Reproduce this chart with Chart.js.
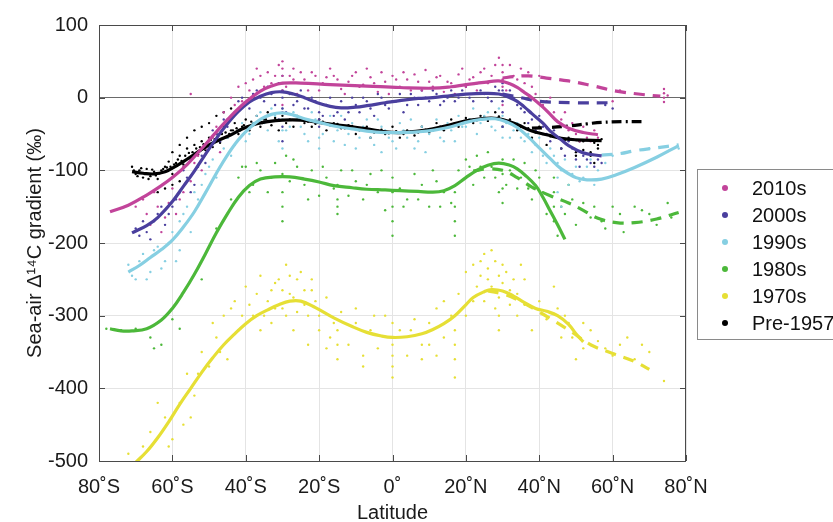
<!DOCTYPE html>
<html>
<head>
<meta charset="utf-8">
<script src="https://cdn.jsdelivr.net/npm/chart.js@4/dist/chart.umd.min.js"></script>
<style>
  html, body { margin: 0; padding: 0; background: #fff; }
  #wrap { width: 833px; height: 522px; }
</style>
</head>
<body>
<div id="wrap"><canvas id="c" width="833" height="522"></canvas></div>
<script>
// ================== Data ==================
const decades = ['2010s', '2000s', '1990s', '1980s', '1970s', 'Pre-1957'];
const latTicks = [-80, -60, -40, -20, 0, 20, 40, 60, 80];
const gradTicks = [-500, -400, -300, -200, -100, 0, 100];

// smoothed fits [latitude, gradient]
const fit2010s = [[-77, -157], [-72, -148], [-67, -134], [-63, -121], [-60, -110], [-56, -92], [-52, -70], [-48, -47], [-44, -25], [-40, -6], [-36, 9], [-33, 16], [-30, 20], [-25, 20], [-17, 18], [-7, 16], [2, 14], [11, 13], [16, 15], [20, 18], [25, 21], [29, 23], [32, 19], [34, 14], [36, 7], [38, 0], [41, -13], [43, -23], [45, -33], [48, -42], [52, -48], [56, -51]];
const ext2010s = [[30, 27], [33, 29], [37, 30], [42, 27], [48, 23], [54, 17], [61, 9], [67, 5], [73, 2]];
const fit2000s = [[-71, -186], [-67, -176], [-64, -165], [-60, -143], [-57, -122], [-54, -101], [-51, -78], [-48, -56], [-45, -36], [-42, -19], [-39, -6], [-36, 2], [-33, 7], [-30, 8], [-27, 5], [-24, 0], [-21, -6], [-17, -12], [-14, -14], [-10, -13], [-7, -11], [-2, -7], [2, -4], [7, -1], [11, 0], [16, 3], [20, 5], [25, 6], [29, 5], [32, 0], [34, -5], [36, -13], [38, -22], [41, -35], [43, -46], [46, -58], [48, -66], [52, -76], [57, -80]];
const ext2000s = [[30, 5], [35, 0], [40, -5], [50, -7], [60, -7]];
const fit1990s = [[-72, -240], [-69, -231], [-66, -220], [-63, -209], [-60, -196], [-57, -178], [-54, -157], [-51, -131], [-48, -104], [-45, -79], [-42, -58], [-39, -42], [-36, -30], [-33, -23], [-30, -21], [-27, -24], [-24, -29], [-20, -34], [-16, -39], [-11, -43], [-7, -46], [-2, -48], [2, -48], [7, -47], [11, -45], [16, -40], [20, -34], [24, -30], [28, -29], [31, -33], [34, -41], [37, -54], [40, -69], [43, -84], [46, -98], [50, -110], [53, -113], [57, -112], [61, -106], [66, -96], [72, -82], [78, -66]];
const ext1990s = [[57, -79], [62, -77], [66, -73], [72, -69], [78, -65]];
const fit1980s = [[-77, -318], [-74, -321], [-71, -321], [-67, -318], [-63, -306], [-60, -290], [-57, -268], [-54, -243], [-51, -215], [-48, -186], [-45, -160], [-42, -137], [-39, -121], [-36, -112], [-32, -109], [-28, -109], [-24, -112], [-20, -116], [-16, -121], [-11, -124], [-7, -126], [-2, -127], [2, -128], [7, -129], [11, -130], [14, -128], [17, -121], [20, -110], [23, -100], [26, -93], [29, -90], [32, -93], [34, -98], [36, -106], [39, -121], [41, -137], [43, -156], [45, -175], [47, -195]];
const ext1980s = [[22, -101], [26, -98], [30, -100], [34, -110], [38, -123], [43, -135], [48, -145], [52, -155], [56, -166], [61, -172], [66, -172], [72, -167], [78, -158]];
const fit1970s = [[-70, -502], [-67, -487], [-64, -468], [-61, -446], [-58, -422], [-55, -400], [-52, -378], [-49, -358], [-46, -340], [-43, -325], [-40, -311], [-37, -300], [-34, -292], [-31, -285], [-28, -280], [-25, -280], [-21, -289], [-16, -303], [-11, -315], [-7, -323], [-3, -328], [0, -330], [4, -329], [8, -325], [11, -319], [14, -311], [17, -300], [20, -285], [22, -275], [25, -267], [27, -264], [30, -266], [33, -273], [36, -282], [39, -290], [42, -294], [45, -300], [48, -312], [50, -325], [52, -336]];
const ext1970s = [[26, -266], [30, -270], [34, -278], [39, -292], [44, -307], [49, -323], [54, -340], [60, -352], [66, -363], [70, -374]];
const fitPre1957 = [[-71, -102], [-68, -104], [-65, -105], [-62, -102], [-60, -97], [-57, -88], [-54, -78], [-51, -68], [-48, -60], [-44, -51], [-41, -43], [-37, -36], [-34, -33], [-30, -31], [-25, -31], [-20, -34], [-16, -37], [-11, -40], [-7, -43], [-2, -47], [2, -48], [7, -46], [11, -43], [16, -37], [20, -32], [24, -29], [27, -28], [30, -30], [34, -37], [38, -46], [42, -51], [46, -56], [50, -58], [57, -59]];
const extPre1957 = [[38, -42], [43, -41], [48, -39], [53, -36], [57, -34], [63, -33], [69, -33]];

// individual measurements [latitude, gradient]
const obs2010s = [[-68, -140], [-66, -175], [-64, -150], [-62, -165], [-60, -125], [-58, -140], [-57, -95], [-55, -115], [-55, 5], [-53, -80], [-52, -100], [-50, -60], [-48, -40], [-47, -75], [-45, -30], [-43, -10], [-42, 15], [-40, 20], [-38, 25], [-36, 30], [-34, 35], [-33, 20], [-31, 45], [-30, 50], [-30, 40], [-30, 30], [-30, 20], [-30, 10], [-30, -10], [-30, -20], [-28, 30], [-27, 40], [-26, 5], [-24, 25], [-22, 35], [-20, 10], [-18, 28], [-16, 30], [-14, 12], [-12, 22], [-10, 35], [-8, 18], [-6, 28], [-4, 8], [-2, 22], [0, 30], [2, 15], [4, 25], [6, 32], [8, 10], [10, 22], [12, 28], [14, 8], [16, 20], [18, 32], [20, 15], [22, 28], [24, 35], [26, 20], [28, 45], [29, 55], [30, 35], [30, 45], [30, 25], [30, 15], [30, 5], [30, -10], [31, 10], [33, 30], [35, 40], [36, 20], [38, 15], [40, 30], [42, -5], [44, -20], [46, -30], [48, -45], [50, -50], [52, -40], [54, -60], [56, -55], [60, -5], [62, 10], [74, 12], [74, 6], [74, 0], [74, -6], [75, 3], [-70, -150], [-67, -160], [-65, -130], [-63, -185], [-61, -145], [-59, -160], [-57, -130], [-54, -90], [-51, -70], [-49, -55], [-46, -20], [-44, 0], [-41, -5], [-39, 10], [-37, 40], [-35, 15], [-32, 30], [-29, 15], [-27, 25], [-25, 35], [-23, 10], [-21, 30], [-19, 20], [-17, 40], [-15, 25], [-13, 5], [-11, 30], [-9, 15], [-7, 40], [-5, 20], [-3, 35], [-1, 5], [1, 25], [3, 35], [5, 10], [7, 22], [9, 38], [11, 15], [13, 30], [15, 22], [17, 5], [19, 40], [21, 25], [23, 10], [25, 40], [27, 30], [32, 45], [34, 25], [37, 35], [39, 5], [41, -10], [43, 0], [45, -40], [47, -20], [49, -35], [51, -60], [53, -55], [55, -45]];
const obs2000s = [[-70, -180], [-68, -170], [-66, -195], [-64, -160], [-62, -175], [-60, -150], [-58, -130], [-56, -110], [-54, -120], [-52, -80], [-50, -65], [-48, -50], [-46, -30], [-44, -25], [-42, -5], [-40, -10], [-38, 5], [-36, 0], [-34, 15], [-32, -10], [-31, 20], [-31, -30], [-30, 30], [-30, 20], [-30, 10], [-30, 0], [-30, -15], [-30, -40], [-30, -60], [-29, -20], [-28, 5], [-26, -5], [-24, -15], [-22, 0], [-20, -20], [-20, -30], [-20, -35], [-20, -40], [-18, -10], [-16, -25], [-14, -5], [-12, -20], [-10, -10], [-8, 0], [-6, -15], [-4, 5], [-2, -10], [0, -5], [2, 5], [4, -10], [6, 0], [8, 10], [10, -5], [12, 5], [14, -5], [16, 10], [18, 0], [20, 15], [22, -5], [24, 10], [26, 0], [28, 15], [30, 20], [30, 10], [30, -5], [30, -20], [30, -40], [32, 10], [34, -10], [36, -20], [38, -30], [40, -25], [42, -50], [44, -45], [46, -70], [48, -60], [50, -85], [52, -80], [54, -90], [56, -85], [58, -10], [60, -15], [-69, -190], [-67, -185], [-65, -170], [-63, -150], [-61, -160], [-59, -140], [-57, -100], [-55, -130], [-53, -95], [-51, -90], [-49, -45], [-47, -60], [-45, -40], [-43, -20], [-41, 0], [-39, -15], [-37, 10], [-35, -5], [-33, 5], [-27, -10], [-25, 10], [-23, -15], [-21, -5], [-19, -25], [-17, 0], [-15, -20], [-13, -30], [-11, 0], [-9, -20], [-7, -5], [-5, -25], [-3, 0], [-1, -15], [1, -5], [3, -20], [5, 5], [7, -10], [9, 0], [11, 10], [13, -10], [15, 0], [17, -5], [19, 10], [21, 0], [23, 20], [25, 5], [27, -5], [29, 10], [33, 0], [35, -15], [37, -35], [39, -45], [41, -40], [43, -60], [45, -55], [47, -80], [49, -70], [51, -95], [53, -85], [55, -95], [57, -90]];
const obs1990s = [[-72, -230], [-70, -250], [-68, -215], [-66, -240], [-64, -205], [-62, -225], [-60, -185], [-58, -210], [-58, -170], [-56, -150], [-55, -185], [-54, -130], [-52, -120], [-50, -95], [-48, -110], [-46, -70], [-44, -80], [-42, -45], [-40, -60], [-38, -35], [-36, -20], [-34, -45], [-32, -25], [-31, -60], [-30, -15], [-30, -30], [-30, -45], [-30, -70], [-28, -40], [-26, -30], [-24, -50], [-22, -20], [-20, -55], [-20, -70], [-18, -35], [-16, -60], [-14, -25], [-12, -50], [-10, -70], [-8, -40], [-6, -55], [-4, -30], [-3, -75], [-2, -45], [0, -60], [2, -35], [4, -55], [6, -70], [8, -40], [10, -50], [12, -30], [14, -60], [16, -45], [18, -25], [20, -40], [22, -15], [24, -35], [26, -20], [28, -45], [30, -25], [30, -40], [30, -55], [32, -55], [34, -35], [36, -60], [38, -75], [40, -55], [42, -90], [44, -80], [46, -100], [48, -120], [50, -95], [52, -110], [54, -85], [56, -100], [60, -80], [70, -70], [78, -70], [-71, -245], [-69, -225], [-67, -250], [-65, -210], [-63, -235], [-61, -200], [-59, -225], [-57, -160], [-53, -140], [-51, -105], [-49, -85], [-47, -95], [-45, -55], [-43, -65], [-41, -35], [-39, -50], [-37, -25], [-35, -35], [-33, -15], [-29, -45], [-27, -20], [-25, -40], [-23, -60], [-21, -30], [-19, -50], [-17, -25], [-15, -45], [-13, -65], [-11, -35], [-9, -55], [-7, -30], [-5, -65], [-3, -40], [-1, -55], [1, -70], [3, -45], [5, -30], [7, -60], [9, -75], [11, -45], [13, -55], [15, -35], [17, -60], [19, -40], [21, -30], [23, -50], [25, -25], [27, -40], [29, -15], [31, -35], [33, -45], [35, -55], [37, -50], [39, -65], [41, -80], [43, -70], [45, -90], [45, -110], [45, -130], [46, -150], [47, -85], [49, -105], [51, -115], [53, -95], [55, -120], [58, -90]];
const obs1980s = [[-78, -318], [-74, -320], [-70, -318], [-66, -330], [-65, -345], [-63, -340], [-60, -305], [-58, -318], [-52, -250], [-48, -180], [-44, -140], [-42, -110], [-40, -95], [-38, -120], [-36, -100], [-34, -130], [-32, -90], [-30, -105], [-30, -130], [-30, -150], [-30, -170], [-29, -80], [-28, -115], [-26, -95], [-24, -120], [-22, -100], [-20, -135], [-18, -110], [-16, -125], [-15, -120], [-15, -140], [-15, -150], [-15, -160], [-14, -100], [-12, -135], [-10, -115], [-8, -140], [-6, -105], [-4, -130], [-2, -155], [0, -110], [0, -130], [0, -150], [0, -170], [0, -190], [2, -125], [4, -140], [6, -105], [8, -120], [10, -150], [12, -115], [14, -130], [16, -145], [17, -130], [17, -150], [17, -170], [17, -190], [18, -100], [20, -85], [22, -120], [24, -95], [26, -75], [28, -110], [29, -130], [30, -85], [30, -105], [30, -125], [30, -145], [32, -100], [34, -125], [36, -90], [38, -140], [40, -110], [42, -160], [44, -110], [44, -130], [44, -150], [44, -170], [45, -190], [46, -150], [48, -120], [50, -175], [52, -145], [54, -165], [58, -180], [60, -150], [63, -185], [66, -150], [70, -160], [75, -145], [76, -165], [-41, -95], [-39, -130], [-37, -90], [-33, -110], [-27, -85], [-23, -140], [-19, -95], [-11, -100], [-7, -120], [-3, -100], [3, -150], [7, -140], [11, -100], [13, -150], [21, -95], [23, -80], [25, -110], [27, -95], [31, -120], [33, -85], [35, -110], [37, -125], [39, -100], [41, -130], [47, -160], [49, -140], [55, -150], [57, -170], [62, -160], [68, -155], [72, -175]];
const obs1970s = [[-72, -490], [-68, -480], [-66, -460], [-62, -440], [-60, -470], [-58, -420], [-56, -380], [-54, -410], [-52, -350], [-50, -370], [-48, -330], [-46, -300], [-45, -360], [-44, -290], [-42, -320], [-40, -260], [-38, -300], [-36, -245], [-34, -280], [-33, -310], [-32, -255], [-30, -290], [-29, -230], [-28, -270], [-27, -320], [-26, -250], [-24, -285], [-23, -340], [-22, -265], [-20, -300], [-18, -275], [-17, -330], [-16, -310], [-14, -295], [-12, -340], [-10, -310], [-8, -355], [-6, -320], [-4, -345], [-2, -300], [0, -340], [0, -370], [2, -320], [4, -355], [6, -305], [8, -340], [10, -310], [12, -290], [14, -330], [16, -300], [17, -360], [17, -385], [18, -270], [20, -240], [22, -280], [24, -225], [26, -250], [27, -210], [28, -290], [29, -245], [30, -230], [32, -265], [34, -300], [36, -250], [38, -320], [40, -280], [42, -305], [44, -260], [46, -330], [48, -310], [50, -360], [52, -345], [54, -320], [56, -335], [60, -355], [64, -330], [68, -340], [74, -390], [-31, -250], [-30, -265], [-29, -300], [-28, -245], [-27, -275], [-26, -295], [-25, -240], [-24, -265], [-23, -300], [-22, -250], [-21, -280], [-32, -290], [-33, -265], [-35, -300], [-36, -320], [-37, -270], [-39, -285], [-41, -300], [-43, -280], [-47, -350], [-49, -310], [-53, -380], [-55, -440], [-57, -450], [-61, -480], [-64, -420], [22, -230], [23, -260], [24, -245], [25, -280], [25, -215], [26, -235], [27, -260], [28, -225], [29, -275], [30, -255], [31, -240], [32, -285], [33, -250], [34, -270], [35, -230], [36, -285], [29, -300], [29, -320], [-15, -320], [-15, -340], [-15, -360], [0, -310], [0, -355], [0, -385], [17, -340], [17, -320], [-10, -290], [-5, -300], [5, -320], [10, -340], [-8, -370], [8, -360], [20, -300], [14, -280], [12, -355], [-20, -320], [-18, -345], [45, -290], [47, -300], [49, -330], [52, -310], [58, -345], [62, -340], [66, -360], [70, -350]];
const obsPre1957 = [[-71, -95], [-70, -105], [-69, -100], [-68, -110], [-67, -98], [-66, -108], [-65, -102], [-64, -112], [-63, -100], [-62, -95], [-61, -88], [-60, -105], [-59, -90], [-58, -80], [-57, -92], [-56, -70], [-55, -85], [-54, -65], [-53, -78], [-52, -60], [-51, -72], [-50, -55], [-49, -68], [-48, -50], [-47, -62], [-46, -40], [-45, -55], [-44, -45], [-43, -35], [-42, -50], [-41, -40], [-40, -30], [-39, -45], [-38, -35], [-37, -25], [-36, -40], [-35, -30], [-34, -20], [-33, -38], [-32, -28], [-31, -45], [-30, -25], [-29, -35], [-28, -30], [-27, -40], [-26, -25], [-24, -35], [-22, -40], [-20, -30], [-18, -45], [-16, -35], [-14, -42], [-12, -38], [-10, -50], [-8, -42], [-6, -55], [-4, -45], [-2, -50], [0, -40], [2, -55], [4, -45], [6, -52], [8, -40], [10, -48], [12, -35], [14, -45], [16, -30], [18, -40], [20, -28], [22, -35], [24, -25], [26, -32], [28, -20], [30, -40], [32, -30], [34, -45], [36, -35], [38, -55], [40, -40], [42, -65], [44, -50], [46, -70], [48, -55], [50, -75], [52, -60], [54, -80], [56, -65], [55, -90], [-70.5, -100], [-69.5, -108], [-68.5, -97], [-67.5, -105], [-66.5, -112], [-65.5, -99], [-64.5, -107], [-63.5, -104], [-62.5, -98], [-61.5, -96], [-60.5, -95], [-59.5, -92], [-58.5, -85], [-57.5, -87], [-56.5, -80], [-55.5, -76], [-54.5, -75], [-53.5, -70], [-52.5, -68], [-51.5, -64], [-50.5, -62], [-49.5, -58], [-48.5, -57], [-47.5, -52], [-46.5, -50], [-45.5, -48], [-44.5, -50], [-43.5, -45], [-42.5, -42], [-41.5, -45], [-40.5, -38], [-39.5, -40], [-38.5, -33], [-37.5, -36], [-36.5, -32], [-35.5, -35], [-34.5, -30], [-60, -75], [-58, -65], [-56, -55], [-54, -45], [-52, -40], [-50, -35], [-48, -25], [-46, -20], [-44, -15], [-60, -120], [-58, -115], [-62, -125], [-64, -130], [-25, -28], [-23, -33], [-21, -36], [-19, -33], [-17, -38], [-15, -36], [-13, -42], [-11, -39], [-9, -45], [-7, -40], [-5, -48], [-3, -44], [-1, -49], [1, -46], [3, -50], [5, -47], [7, -48], [9, -44], [11, -45], [13, -40], [15, -39], [17, -35], [19, -34], [21, -30], [23, -31], [25, -27], [27, -29], [29, -26], [31, -33], [33, -35], [35, -40], [37, -42], [39, -48], [41, -50], [43, -53], [45, -55], [47, -58], [49, -57], [51, -60], [53, -58], [55, -62], [57, -57], [56, -70], [54, -75], [52, -72], [50, -80]];

// ================== Styles ==================
const decadeColors = ['#c2449a', '#4a3f9e', '#86cfe2', '#4cb83a', '#e6df35', '#000000'];
const fits = [fit2010s, fit2000s, fit1990s, fit1980s, fit1970s, fitPre1957];
const exts = [ext2010s, ext2000s, ext1990s, ext1980s, ext1970s, extPre1957];
const obs = [obs2010s, obs2000s, obs1990s, obs1980s, obs1970s, obsPre1957];

const toXY = arr => arr.map(p => ({ x: p[0], y: p[1] }));
const fontName = '"Liberation Sans", Arial, Helvetica, sans-serif';

function latLabel(v) {
    if (v === 0) return '0˚';
    return v < 0 ? `${-v}˚S` : `${v}˚N`;
}

// ================== Datasets ==================
const datasets = [];
decades.forEach((name, i) => {
    datasets.push({
        type: 'line', label: name + ' fit', data: toXY(fits[i]),
        borderColor: decadeColors[i], borderWidth: 3.2, pointRadius: 0,
        tension: 0.4, fill: false, order: 1
    });
    datasets.push({
        type: 'line', label: name + ' ext', data: toXY(exts[i]),
        borderColor: decadeColors[i], borderWidth: 3.2, pointRadius: 0,
        borderDash: i === 5 ? [10, 4, 2, 4] : [11, 8],
        tension: 0.4, fill: false, order: 1
    });
    datasets.push({
        type: 'scatter', label: name, data: toXY(obs[i]),
        backgroundColor: decadeColors[i], borderWidth: 0,
        pointRadius: 1.2, order: 2
    });
});

// ================== Frame, inner ticks, legend ==================
const framePlugin = {
    id: 'frame',
    afterDraw(chart) {
        const { ctx, chartArea: a, scales } = chart;
        ctx.save();
        ctx.strokeStyle = '#4a4a4a';
        ctx.lineWidth = 1;
        ctx.strokeRect(a.left + 0.5, a.top + 0.5, a.right - a.left - 1, a.bottom - a.top);
        ctx.beginPath();
        latTicks.forEach(v => {
            const x = Math.round(scales.x.getPixelForValue(v)) + 0.5;
            ctx.moveTo(x, a.bottom); ctx.lineTo(x, a.bottom - 6);
            ctx.moveTo(x, a.top); ctx.lineTo(x, a.top + 6);
        });
        gradTicks.forEach(v => {
            const y = Math.round(scales.y.getPixelForValue(v)) + 0.5;
            ctx.moveTo(a.left, y); ctx.lineTo(a.left + 6, y);
            ctx.moveTo(a.right, y); ctx.lineTo(a.right - 6, y);
        });
        ctx.stroke();

        // legend box
        const lx = 697, ly = 169, lh = 170;
        ctx.fillStyle = '#fff';
        ctx.fillRect(lx, ly, 140, lh);
        ctx.strokeStyle = '#8a8a8a';
        ctx.strokeRect(lx + 0.5, ly + 0.5, 140, lh);
        ctx.font = `20px ${fontName}`;
        ctx.textBaseline = 'middle';
        decades.forEach((name, i) => {
            const y = 188 + i * 27;
            ctx.fillStyle = decadeColors[i];
            ctx.beginPath();
            ctx.arc(725, y, 3, 0, Math.PI * 2);
            ctx.fill();
            ctx.fillStyle = '#111';
            ctx.fillText(name, 752, y + 1);
        });
        ctx.restore();
    }
};

// ================== Chart ==================
new Chart(document.getElementById('c'), {
    data: { datasets },
    options: {
        responsive: false,
        animation: false,
        layout: { padding: { left: 0, right: 147, top: 25, bottom: 0 } },
        plugins: { legend: { display: false }, tooltip: { enabled: false } },
        scales: {
            x: {
                type: 'linear', min: -80, max: 80,
                afterFit: s => { s.height = 61; },
                afterBuildTicks: s => { s.ticks = latTicks.map(v => ({ value: v })); },
                grid: { color: '#e4e4e4', drawTicks: false },
                border: { display: false },
                ticks: {
                    padding: 14, color: '#1a1a1a',
                    font: { family: fontName, size: 20 },
                    callback: v => latLabel(v)
                },
                title: {
                    display: true, text: 'Latitude', color: '#1a1a1a',
                    font: { family: fontName, size: 20 },
                    padding: { top: 0, bottom: -3 }
                }
            },
            y: {
                type: 'linear', min: -500, max: 100,
                afterFit: s => { s.width = 99; },
                afterBuildTicks: s => { s.ticks = gradTicks.map(v => ({ value: v })); },
                grid: {
                    drawTicks: false,
                    color: c => c.tick && c.tick.value === 0 ? '#6a6a6a' : '#e4e4e4'
                },
                border: { display: false },
                ticks: {
                    padding: 11, color: '#1a1a1a',
                    font: { family: fontName, size: 20 }
                },
                title: {
                    display: true, text: 'Sea-air Δ¹⁴C gradient (‰)', color: '#1a1a1a',
                    font: { family: fontName, size: 20 },
                    padding: { top: 23, bottom: 0 }
                }
            }
        }
    },
    plugins: [framePlugin]
});
</script>
</body>
</html>
